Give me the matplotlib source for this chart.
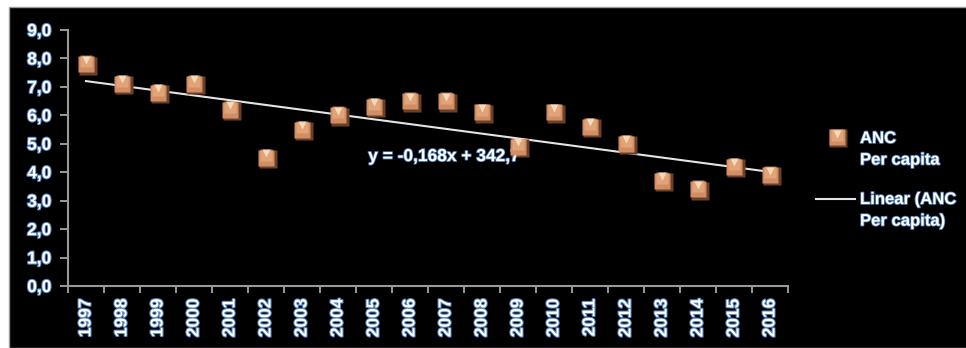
import matplotlib.pyplot as plt
import matplotlib.patheffects as pe
from matplotlib.patches import Rectangle
from matplotlib.lines import Line2D
import numpy as np

plt.rcParams['font.family'] = ['Liberation Sans', 'DejaVu Sans']

years = list(range(1997, 2017))
anc_per_capita = [7.8, 7.1, 6.8, 7.1, 6.2, 4.5, 5.5, 6.0, 6.3, 6.5,
                  6.5, 6.1, 4.9, 6.1, 5.6, 5.0, 3.7, 3.4, 4.2, 3.9]
yticks = np.arange(0, 9.5, 1.0)
legend_labels = ['ANC\nPer capita', 'Linear (ANC\nPer capita)']

# trend line as printed on the chart
slope, intercept = -0.168, 342.7

W, H = 966, 348
fig = plt.figure(figsize=(W / 100, H / 100), dpi=100, facecolor='white')
fig.patches.append(Rectangle((9 / W, 0), 1, 1 - 7 / H, transform=fig.transFigure,
                             facecolor='black', edgecolor='#9a9a9a', linewidth=1.0,
                             zorder=-5))

ax = fig.add_axes([68 / W, 62 / H, 720 / W, 256 / H])
ax.patch.set_alpha(0)

body, shade, light, tip = '#d38d62', '#6a4028', '#e7ae84', '#fde4c6'
trend_color = '#e4e4e4'


def bevel_square(draw, xs, ys, dx, dy):
    # shadow, body, lighter top band, bright top notch
    draw(xs + dx, ys - dy, 's', ms=12.5, color=shade, mec='none', zorder=3)
    draw(xs, ys, 's', ms=12, color=body, mec='none', zorder=4)
    draw(xs, ys + 2 * dy, 's', ms=8, color=light, mec='none', alpha=0.7, zorder=5)
    draw(xs, ys + 3.2 * dy, 'v', ms=6, color=tip, mec='none', alpha=0.85, zorder=6)


x = np.arange(len(years))
trend = slope * np.array(years) + intercept
ax.plot(x, trend, color=trend_color, lw=1.5, zorder=2)
bevel_square(ax.plot, x, np.array(anc_per_capita), 0.05, 0.05)

ax.set_xlim(-0.5, len(years) - 0.5)
ax.set_ylim(0, 9)

glow = [pe.withStroke(linewidth=1.5, foreground='#5585c0')]
ax.set_yticks(yticks)
ax.set_yticklabels([f'{v:.1f}'.replace('.', ',') for v in yticks],
                   color='white', fontsize=12.5, fontweight='bold', path_effects=glow)
ax.set_xticks(x)
ax.set_xticklabels([str(y) for y in years], rotation=90, color='white',
                   fontsize=12.5, fontweight='bold', path_effects=glow)
ax.set_xticks(np.arange(-0.5, len(years)), minor=True)
ax.tick_params(axis='x', which='major', length=0, pad=9)
ax.tick_params(axis='x', which='minor', length=5, color='#9a9a9a', width=1.4)
ax.tick_params(axis='y', length=6, color='#9a9a9a', width=1.4, pad=6)

for side in ['top', 'right']:
    ax.spines[side].set_visible(False)
for side in ['left', 'bottom']:
    ax.spines[side].set_color('#9a9a9a')
    ax.spines[side].set_linewidth(1.5)

text_glow = [pe.withStroke(linewidth=1.2, foreground='#4a78b0')]
ax.text(9.95, 4.55, 'y = -0,168x + 342,7', color='white', fontsize=12.5, fontweight='bold',
        ha='center', va='center', path_effects=text_glow)

# legend on the right, handles level with the first text line
lax = fig.add_axes([0, 0, 1, 1])
lax.set_xlim(0, W)
lax.set_ylim(H, 0)
lax.axis('off')
bevel_square(lax.plot, np.array([837.0]), np.array([137.0]), 1.0, -1.0)
lax.plot([816, 855], [199, 199], color=trend_color, lw=1.5)
for label, ytop in zip(legend_labels, [138, 199]):
    lax.text(860, ytop - 7, label, color='white', fontsize=12, fontweight='bold',
             ha='left', va='top', linespacing=1.55, path_effects=text_glow)

fig.savefig('out.png', dpi=100, facecolor='white')
